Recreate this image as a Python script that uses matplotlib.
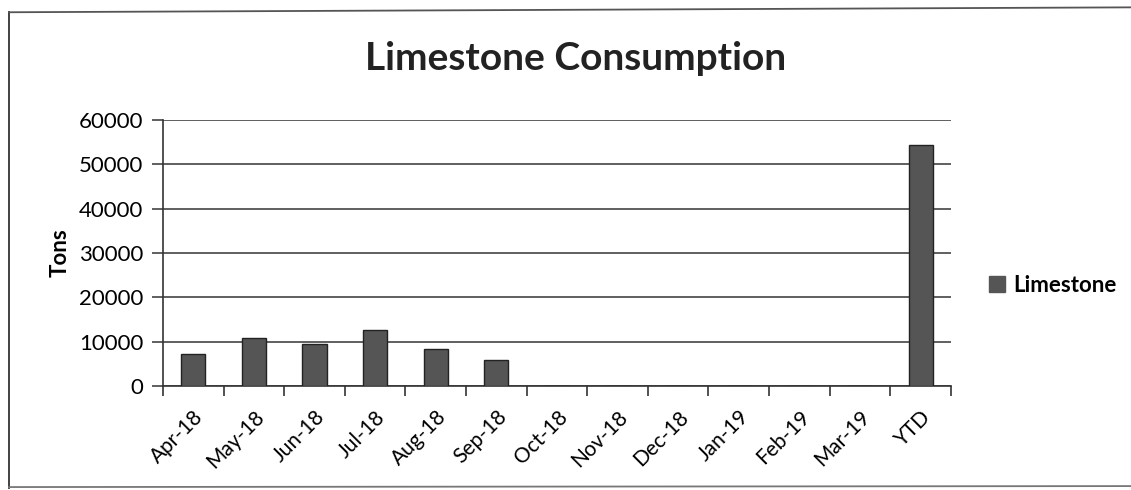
import matplotlib
matplotlib.use("Agg")
from matplotlib import pyplot as plt
from matplotlib.lines import Line2D
from matplotlib.patches import Patch
from matplotlib.transforms import ScaledTranslation

months = ["Apr-18", "May-18", "Jun-18", "Jul-18", "Aug-18", "Sep-18",
          "Oct-18", "Nov-18", "Dec-18", "Jan-19", "Feb-19", "Mar-19", "YTD"]
limestone = [7300, 10900, 9400, 12700, 8300, 5800, 0, 0, 0, 0, 0, 0, 54400]
y_ticks = [0, 10000, 20000, 30000, 40000, 50000, 60000]

plt.rcParams["font.family"] = ["Lato", "DejaVu Sans"]

fig = plt.figure(figsize=(11.31, 4.9), dpi=100)
ax = fig.add_axes([0.1441, 0.2122, 0.6967, 0.5429])

x = list(range(len(months)))
ax.bar(x, limestone, width=0.4, color="#555555", edgecolor="#222222", linewidth=1.0,
       label="Limestone", zorder=3)

ax.set_xlim(-0.5, len(months) - 0.5)
ax.set_ylim(0, 60000)
ax.set_yticks(y_ticks)
ax.set_yticklabels([str(v) for v in y_ticks], fontsize=16)
ax.yaxis.grid(True, color="#444444", linewidth=1.2, zorder=0)

# excel style: ticks between categories, labels under categories
ax.set_xticks([i - 0.5 for i in range(len(months) + 1)])
ax.set_xticklabels([])
ax.set_xticks(x, minor=True)
ax.set_xticklabels(months, minor=True, rotation=45, ha="right",
                   rotation_mode="anchor", fontsize=15)
shift = ScaledTranslation(-9 / 100, 0, fig.dpi_scale_trans)
for lbl in ax.get_xticklabels(minor=True):
    lbl.set_transform(lbl.get_transform() + shift)
ax.tick_params(axis="x", which="major", length=7, width=1.2, direction="out", color="#333333")
ax.tick_params(axis="x", which="minor", length=0, pad=15)
ax.tick_params(axis="y", length=8, width=1.2, color="#444444", pad=6)

for side in ["top", "right"]:
    ax.spines[side].set_visible(False)
ax.spines["left"].set_color("#333333")
ax.spines["left"].set_linewidth(1.2)
ax.spines["bottom"].set_color("#333333")
ax.spines["bottom"].set_linewidth(1.2)

ax.set_ylabel("Tons", fontsize=16, fontweight="bold", labelpad=6)

fig.text(0.5085, 0.88, "Limestone Consumption", ha="center", va="center",
         fontsize=28, fontweight="bold", color="#222222")

handles = [Patch(facecolor="#555555", edgecolor="#555555")]
fig.legend(handles, ["Limestone"], loc="center left", bbox_to_anchor=(0.857, 0.418),
           frameon=False, prop={"size": 16, "weight": "bold"},
           handlelength=0.7, handleheight=0.7, handletextpad=0.4)

# outer chart border (scanned page)
fig.add_artist(Line2D([0.008, 0.008], [0.004, 0.975], transform=fig.transFigure,
                      color="#333333", linewidth=1.3))
fig.add_artist(Line2D([0.008, 1.0], [0.975, 0.985], transform=fig.transFigure,
                      color="#555555", linewidth=1.3))
fig.add_artist(Line2D([0.008, 1.0], [0.006, 0.008], transform=fig.transFigure,
                      color="#777777", linewidth=1.3))

fig.savefig("out.png", dpi=100)
